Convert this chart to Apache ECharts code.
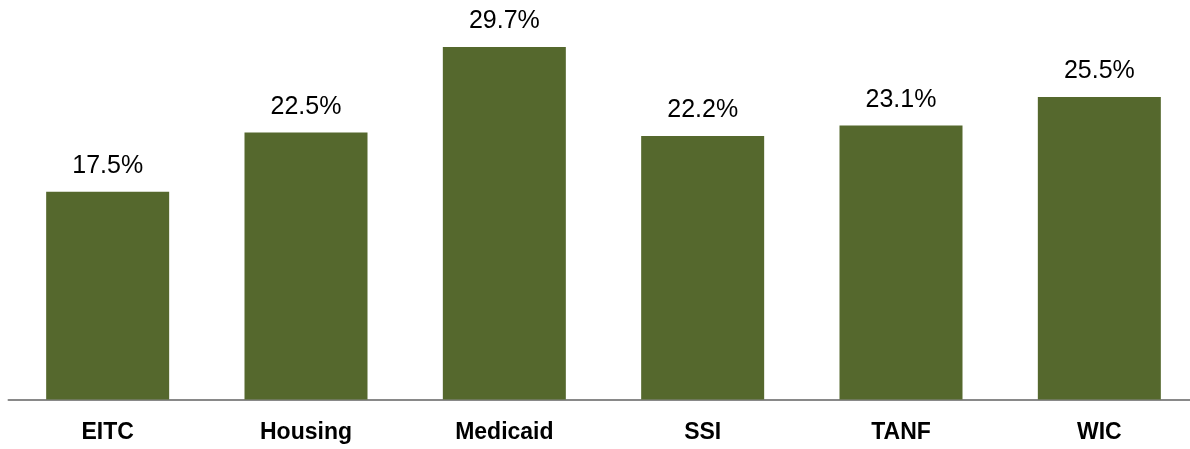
<!DOCTYPE html>
<html>
<head>
<meta charset="utf-8">
<script src="https://cdn.jsdelivr.net/npm/echarts@6/dist/echarts.min.js"></script>
<style>
html,body{margin:0;padding:0;background:#fff;}
#chart{width:1190px;height:449px;}
</style>
</head>
<body>
<div id="chart"></div>
<script>
const categories = ['EITC', 'Housing', 'Medicaid', 'SSI', 'TANF', 'WIC'];
const values = [17.5, 22.5, 29.7, 22.2, 23.1, 25.5];

const chart = echarts.init(document.getElementById('chart'), null, {renderer: 'canvas'});
chart.setOption({
  animation: false,
  grid: {left: 8.5, right: -8.5, top: 43.5, bottom: 49.5, containLabel: false, outerBoundsMode: 'none'},
  xAxis: {
    type: 'category',
    data: categories,
    axisTick: {show: false},
    axisLine: {lineStyle: {color: '#898989', width: 2}},
    axisLabel: {
      margin: 22,
      fontFamily: '"Liberation Sans Narrow", "Liberation Sans", sans-serif',
      fontWeight: 'bold',
      fontSize: 23,
      color: '#000'
    }
  },
  yAxis: {
    type: 'value', min: 0, max: 30,
    show: false,
    splitLine: {show: false}
  },
  series: [{
    type: 'bar',
    data: values,
    barWidth: 123,
    itemStyle: {color: '#55682d'},
    label: {
      show: true,
      position: 'top',
      distance: 13,
      formatter: p => p.value.toFixed(1) + '%',
      fontFamily: '"Liberation Sans", Arial, sans-serif',
      fontSize: 25,
      color: '#000'
    }
  }]
});
</script>
</body>
</html>
